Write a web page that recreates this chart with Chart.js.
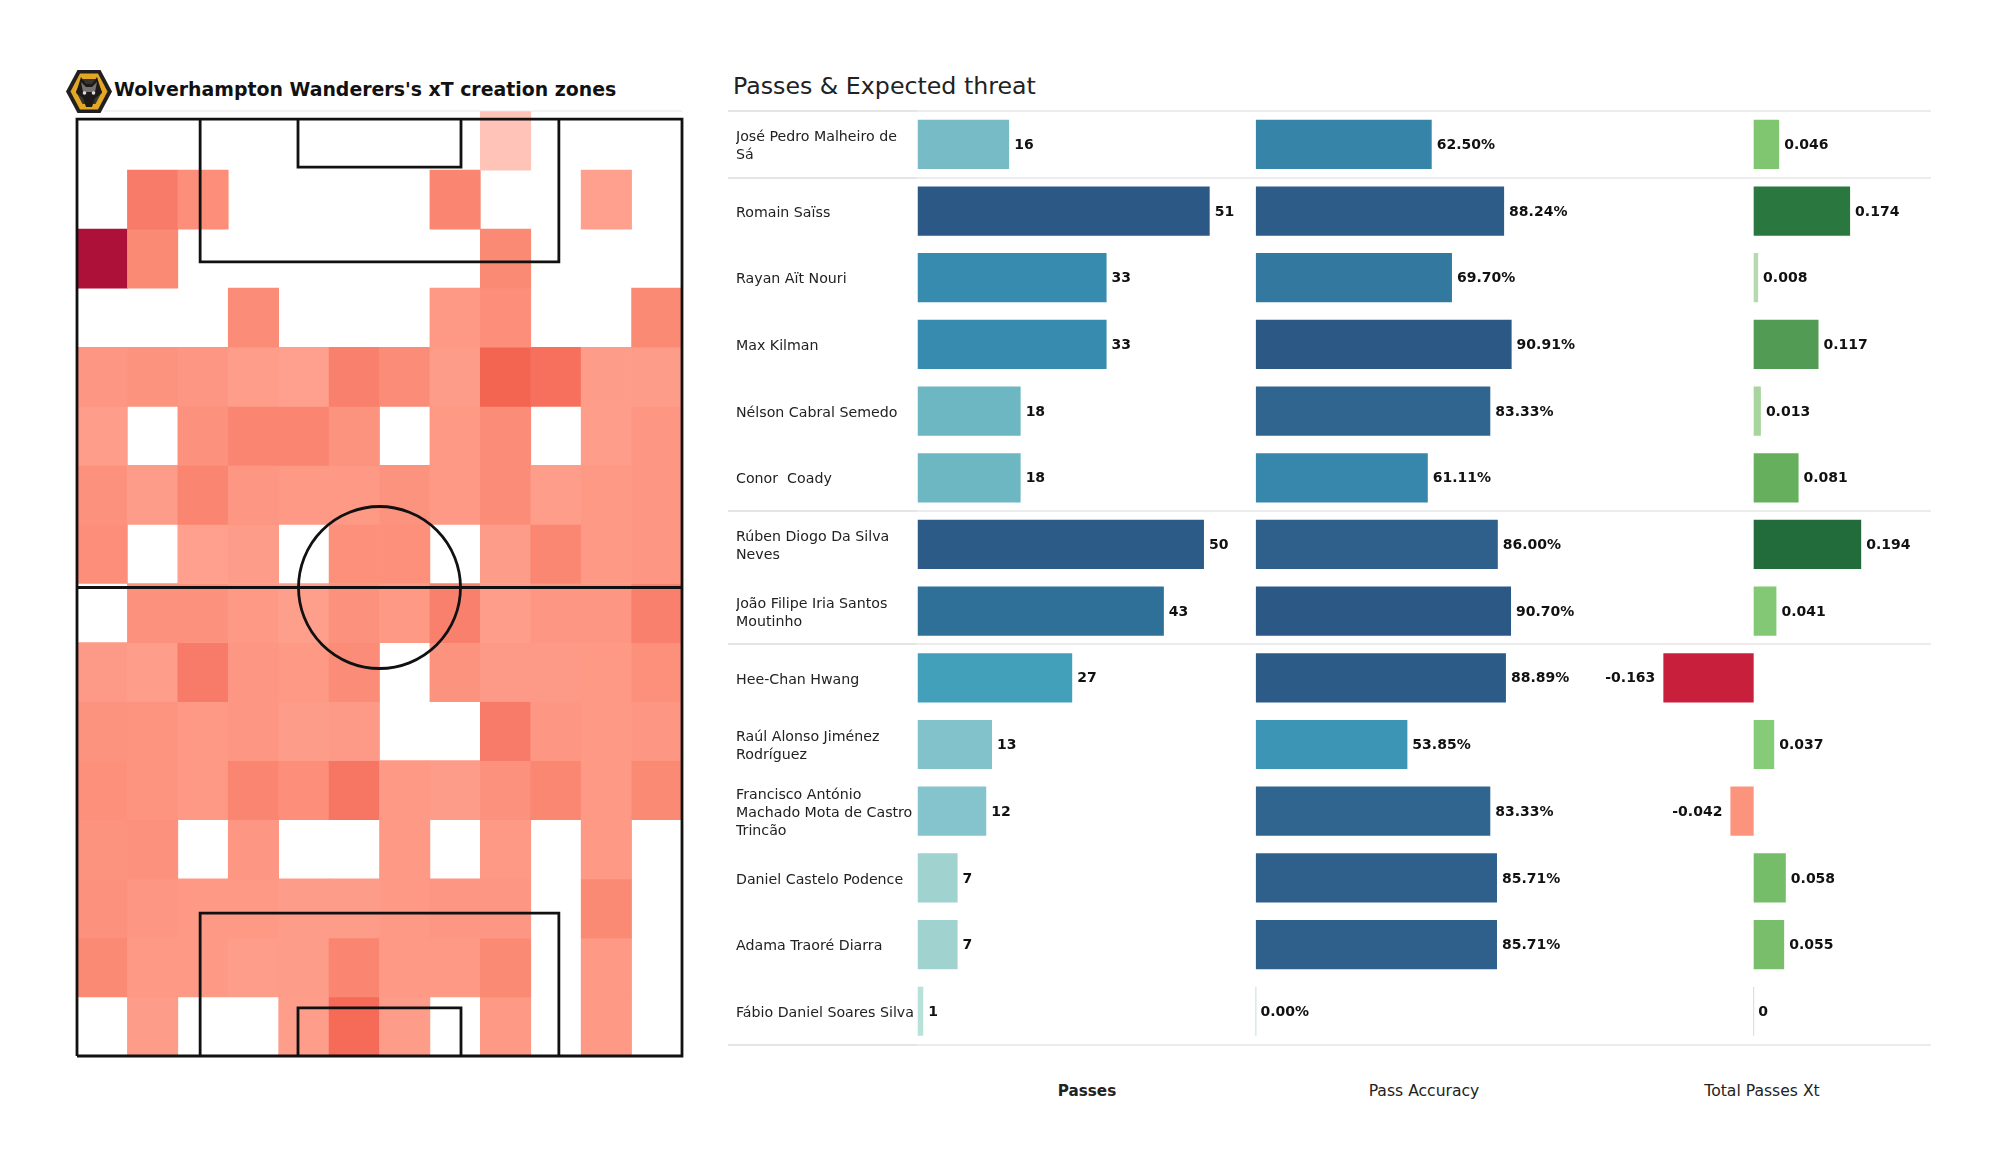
<!DOCTYPE html>
<html>
<head>
<meta charset="utf-8">
<title>Wolverhampton Wanderers xT</title>
<script src="https://cdn.jsdelivr.net/npm/chart.js@4"></script>
<style>
  html, body { margin: 0; background: #fff; width: 2000px; height: 1175px; overflow: hidden; font-family: "DejaVu Sans", sans-serif; color: #111; }
  canvas, svg, .txt { position: absolute; }
  .txt { white-space: pre; line-height: 1; }
  #pitchTitle { left: 114px; top: 80px; font-size: 18.9px; font-weight: bold; }
  #tableTitle { left: 733px; top: 75px; font-size: 23.7px; color: #222; }
  .col { top: 1084px; font-size: 15.6px; transform: translateX(-50%); color: #222; }
</style>
</head>
<body>
<svg style="left:65px;top:69px" width="48" height="45" viewBox="0 0 48 45">
  <polygon points="1,22.5 12.5,1 35.5,1 47,22.5 35.5,44 12.5,44" fill="#231f20"/>
  <polygon points="5.5,22.5 15,4.5 33,4.5 42.5,22.5 33,40.5 15,40.5" fill="#e3a823"/>
  <polygon points="11,22.5 17.5,10 30.5,10 37,22.5 30.5,35 17.5,35" fill="#3a3430"/>
  <polygon points="11,24 16,8 21,15 27,15 32,8 37,24 30,29 27,38 21,38 18,29" fill="#1d1a19"/>
  <polygon points="16,13 21,18 27,18 32,13 30,23 18,23" fill="#77726e"/>
  <circle cx="19.5" cy="24" r="1.8" fill="#ddd"/><circle cx="28.5" cy="24" r="1.8" fill="#ddd"/>
</svg>
<div class="txt" id="pitchTitle">Wolverhampton Wanderers's xT creation zones</div>
<div class="txt" id="tableTitle">Passes &amp; Expected threat</div>
<canvas id="pitchChart" width="700" height="1000" style="left:0;top:100px"></canvas>
<canvas id="tableChart" width="1240" height="960" style="left:720px;top:100px"></canvas>
<div class="txt col" style="left:1087px;font-weight:bold;font-size:15.2px">Passes</div>
<div class="txt col" style="left:1424px">Pass Accuracy</div>
<div class="txt col" style="left:1762px">Total Passes Xt</div>

<script>
// xT level per zone, top row first, null = no passes from there
const heatRows = [
  [null, null, null, null, null, null, null, null, 0, null, null, null],
  [null, 0.40, 0.27, null, null, null, null, 0.33, null, null, 0.15, null],
  [1.0, 0.30, null, null, null, null, null, null, 0.30, null, null, null],
  [null, null, null, 0.28, null, null, null, 0.20, 0.27, null, null, 0.30],
  [0.22, 0.24, 0.22, 0.17, 0.15, 0.36, 0.28, 0.18, 0.50, 0.45, 0.18, 0.18],
  [0.17, null, 0.25, 0.33, 0.33, 0.24, null, 0.20, 0.28, null, 0.17, 0.22],
  [0.25, 0.18, 0.33, 0.22, 0.20, 0.20, 0.24, 0.20, 0.28, 0.17, 0.20, 0.22],
  [0.27, null, 0.15, 0.18, null, 0.26, 0.26, null, 0.18, 0.32, 0.20, 0.22],
  [null, 0.25, 0.25, 0.20, 0.16, 0.25, 0.20, 0.36, 0.17, 0.22, 0.22, 0.36],
  [0.19, 0.17, 0.40, 0.22, 0.20, 0.28, null, 0.24, 0.19, 0.19, 0.20, 0.26],
  [0.24, 0.23, 0.20, 0.22, 0.18, 0.19, null, null, 0.40, 0.21, 0.20, 0.22],
  [0.26, 0.23, 0.20, 0.33, 0.27, 0.42, 0.20, 0.18, 0.25, 0.32, 0.20, 0.30],
  [0.24, 0.25, null, 0.22, null, null, 0.20, null, 0.20, null, 0.20, null],
  [0.25, 0.22, 0.20, 0.20, 0.18, 0.18, 0.20, 0.22, 0.22, null, 0.30, null],
  [0.30, 0.20, 0.20, 0.17, 0.18, 0.33, 0.20, 0.20, 0.30, null, 0.20, null],
  [null, 0.18, null, null, 0.17, 0.47, 0.18, null, 0.20, null, 0.20, null],
];
const zoneColumns = ["1", "2", "3", "4", "5", "6", "7", "8", "9", "10", "11", "12"];

const players = [
  ["José Pedro Malheiro de", "Sá"],
  "Romain Saïss",
  "Rayan Aït Nouri",
  "Max Kilman",
  "Nélson Cabral Semedo",
  "Conor  Coady",
  ["Rúben Diogo Da Silva", "Neves"],
  ["João Filipe Iria Santos", "Moutinho"],
  "Hee-Chan Hwang",
  ["Raúl Alonso Jiménez", "Rodríguez"],
  ["Francisco António", "Machado Mota de Castro", "Trincão"],
  "Daniel Castelo Podence",
  "Adama Traoré Diarra",
  "Fábio Daniel Soares Silva",
];
const passes = [16, 51, 33, 33, 18, 18, 50, 43, 27, 13, 12, 7, 7, 1];
const passAccuracy = [62.5, 88.24, 69.7, 90.91, 83.33, 61.11, 86.0, 90.7, 88.89, 53.85, 83.33, 85.71, 85.71, 0];
const passesXt = [0.046, 0.174, 0.008, 0.117, 0.013, 0.081, 0.194, 0.041, -0.163, 0.037, -0.042, 0.058, 0.055, 0];
// rows after which a separator is drawn
const groupEnds = [0, 1, 6, 8, 14];

// pitch markings in metres, each list one polyline
const pitchLines = [
  [[0, 0], [68, 0], [68, 105], [0, 105], [0, 0]],
  [[0, 52.5], [68, 52.5]],
  [[13.84, 105], [13.84, 89], [54.16, 89], [54.16, 105]],
  [[24.84, 105], [24.84, 99.6], [43.16, 99.6], [43.16, 105]],
  [[13.84, 0], [13.84, 16], [54.16, 16], [54.16, 0]],
  [[24.84, 0], [24.84, 5.4], [43.16, 5.4], [43.16, 0]],
];
const centreSpot = [[34, 52.5]];
const topRule = [[3, 105.9], [68, 105.9]];

const heatRamp = [[0, "#ffc3b8"], [0.15, "#fea08d"], [0.3, "#fb8a75"], [0.4, "#f87a68"], [0.5, "#f46551"], [1, "#ad1038"]];
const blueRamp = [[0, "#bce3dc"], [0.137, "#a0d2d0"], [0.235, "#86c4cd"], [0.35, "#6eb7c2"], [0.53, "#42a0ba"], [0.647, "#378bae"],
  [0.77, "#33799f"], [0.84, "#2f7099"], [0.92, "#2f648e"], [0.95, "#2e5f8a"], [1, "#2c5885"]];
const xtRamp = [[-0.163, "#c8203c"], [-0.042, "#fc937c"], [0, "#d4dccf"], [0.008, "#b6dab0"], [0.013, "#a8d59e"], [0.037, "#85cb78"],
  [0.046, "#80c570"], [0.058, "#76bd69"], [0.081, "#66af5c"], [0.117, "#519b55"], [0.174, "#2a773f"], [0.194, "#226b3b"]];

function rampColor(ramp, v) {
  if (v <= ramp[0][0]) return ramp[0][1];
  for (let i = 1; i < ramp.length; i++) {
    if (v <= ramp[i][0]) {
      const t = (v - ramp[i - 1][0]) / (ramp[i][0] - ramp[i - 1][0]);
      const a = parseInt(ramp[i - 1][1].slice(1), 16), b = parseInt(ramp[i][1].slice(1), 16);
      const mix = s => Math.round(((a >> s) & 255) * (1 - t) + ((b >> s) & 255) * t);
      return `rgb(${mix(16)},${mix(8)},${mix(0)})`;
    }
  }
  return ramp[ramp.length - 1][1];
}

// --- pitch ---
const heatDatasets = heatRows.map((row, r) => ({
  type: "bar",
  label: "row " + (r + 1),
  xAxisID: "xZone",
  yAxisID: "yRow",
  grouped: false,
  categoryPercentage: 1,
  barPercentage: 1,
  order: 3,
  data: row.map(v => v === null ? null : [15 - r, 16 - r]),
  backgroundColor: row.map(v => v === null ? "transparent" : rampColor(heatRamp, v)),
}));

function pitchLine(points, color, width) {
  return {
    type: "line",
    xAxisID: "xPitch",
    yAxisID: "yPitch",
    order: 1,
    data: points.map(p => ({ x: p[0], y: p[1] })),
    borderColor: color,
    borderWidth: width,
    pointRadius: 0,
    fill: false,
    tension: 0,
    clip: false,
  };
}

const hiddenAxis = { display: false, ticks: { display: false } };

new Chart(document.getElementById("pitchChart"), {
  type: "bar",
  data: {
    labels: zoneColumns,
    datasets: [...heatDatasets, pitchLine(topRule, "#e6e6e6", 1), ...pitchLines.map(l => pitchLine(l, "#111", 2.8)), {
      type: "scatter",
      xAxisID: "xPitch",
      yAxisID: "yPitch",
      order: 1,
      data: centreSpot.map(p => ({ x: p[0], y: p[1] })),
      pointRadius: 81,
      pointBackgroundColor: "transparent",
      pointBorderColor: "#111",
      pointBorderWidth: 2.8,
      clip: false,
    }],
  },
  options: {
    responsive: false,
    animation: false,
    layout: { autoPadding: false, padding: { left: 77, right: 18, top: 11, bottom: 44 } },
    plugins: { legend: { display: false }, tooltip: { enabled: false } },
    scales: {
      xZone: { ...hiddenAxis, axis: "x", type: "category", offset: true },
      yRow: { ...hiddenAxis, axis: "y", type: "linear", min: 0, max: 16 },
      xPitch: { ...hiddenAxis, axis: "x", type: "linear", min: 0, max: 68, offset: false },
      yPitch: { ...hiddenAxis, axis: "y", type: "linear", min: 0, max: 105.9 },
    },
  },
});

// --- table of bars ---
const fmtPasses = v => String(v);
const fmtAccuracy = v => v.toFixed(2) + "%";
const fmtXt = v => v === 0 ? "0" : v.toFixed(3);

const maxPasses = Math.max(...passes);
const maxAccuracy = Math.max(...passAccuracy);

function barSet(label, data, axisId, colors, fmt) {
  return {
    label, data, xAxisID: axisId, yAxisID: "y",
    grouped: false,
    categoryPercentage: 1,
    barPercentage: 0.738,
    minBarLength: 1,
    backgroundColor: colors,
    valueFormat: fmt,
  };
}

const tableLines = {
  id: "tableLines",
  beforeDraw(chart) {
    // names sit a little below the bar centre
    chart.scales.y.getLabelItems().forEach(item => { item.options.translation[1] += 2; });
  },
  afterDatasetsDraw(chart) {
    const { ctx, scales: { y }, chartArea } = chart;
    const band = y.getPixelForValue(1) - y.getPixelForValue(0);
    const leftX = 8, splitX = chartArea.left;
    ctx.save();
    ctx.lineWidth = 1.5;
    groupEnds.forEach(end => {
      const py = Math.round(y.getPixelForValue(0) - band / 2 + end * band);
      ctx.strokeStyle = "#dcdcdc";
      ctx.beginPath(); ctx.moveTo(leftX, py); ctx.lineTo(splitX, py); ctx.stroke();
      ctx.strokeStyle = "#e6e6e6";
      ctx.beginPath(); ctx.moveTo(splitX, py); ctx.lineTo(chartArea.right, py); ctx.stroke();
    });
    ctx.font = "bold 14px 'DejaVu Sans'";
    ctx.fillStyle = "#111";
    ctx.textBaseline = "middle";
    chart.data.datasets.forEach((ds, d) => {
      chart.getDatasetMeta(d).data.forEach((bar, i) => {
        const v = ds.data[i];
        ctx.textAlign = v < 0 ? "right" : "left";
        ctx.fillText(ds.valueFormat(v), bar.x + (v < 0 ? -8 : 5), bar.y + 1);
      });
    });
    ctx.restore();
  },
};

new Chart(document.getElementById("tableChart"), {
  type: "bar",
  plugins: [tableLines],
  data: {
    labels: players,
    datasets: [
      barSet("Passes", passes, "xPasses", passes.map(v => rampColor(blueRamp, v / maxPasses)), fmtPasses),
      barSet("Pass Accuracy", passAccuracy, "xAccuracy", passAccuracy.map(v => rampColor(blueRamp, v / maxAccuracy)), fmtAccuracy),
      barSet("Total Passes Xt", passesXt, "xXt", passesXt.map(v => rampColor(xtRamp, v)), fmtXt),
    ],
  },
  options: {
    responsive: false,
    animation: false,
    indexAxis: "y",
    layout: { padding: { left: 16, right: 29, top: 11, bottom: 15.4 } },
    plugins: { legend: { display: false }, tooltip: { enabled: false } },
    scales: {
      y: {
        type: "category",
        offset: true,
        grid: { display: false },
        border: { display: false },
        afterFit: scale => { scale.width = 181.5; scale.paddingTop = 0; scale.paddingBottom = 0; },
        ticks: { autoSkip: false, crossAlign: "far", color: "#222", font: { family: "DejaVu Sans", size: 14.2, lineHeight: 1.25 } },
      },
      // the three columns share one plot area, limits put each zero under its column
      xPasses: { ...hiddenAxis, axis: "x", type: "linear", min: 0, max: 176.9 },
      xAccuracy: { ...hiddenAxis, axis: "x", type: "linear", min: -120.3, max: 240 },
      xXt: { ...hiddenAxis, axis: "x", type: "linear", min: -1.509, max: 0.32 },
    },
  },
});
</script>
</body>
</html>
